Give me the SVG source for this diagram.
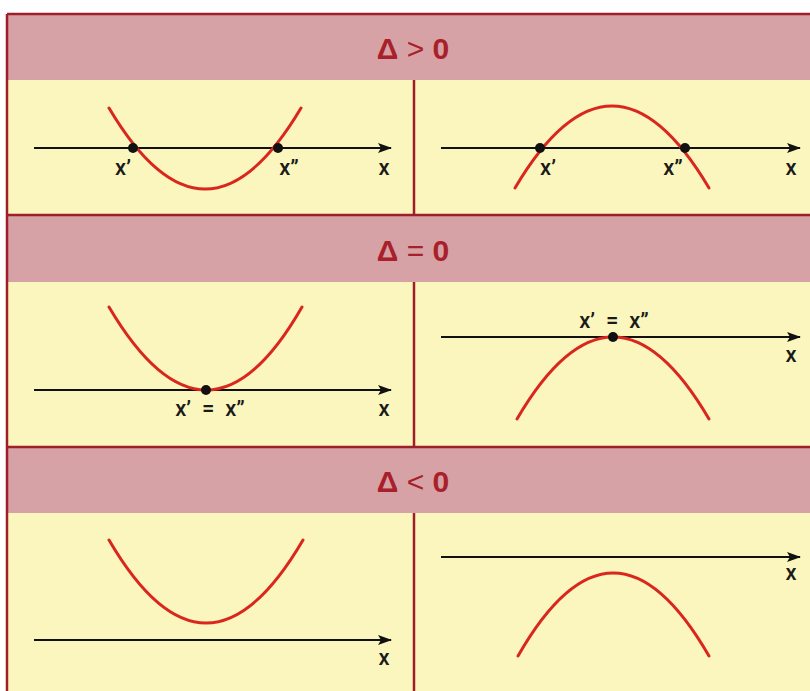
<svg xmlns="http://www.w3.org/2000/svg" width="810" height="691" viewBox="0 0 810 691">
  <defs>
    <marker id="arr" viewBox="0 0 14 10" refX="13" refY="5" markerWidth="14" markerHeight="10" markerUnits="userSpaceOnUse" orient="auto">
      <path d="M0,0 L14,5 L0,10 L3,5 Z" fill="#111"/>
    </marker>
    <style>
      .hdr { fill: #d6a2a6; }
      .cell { fill: #fbf6bd; }
      .rule { stroke: #9e1f2a; stroke-width: 2.5; fill: none; }
      .axis { stroke: #111; stroke-width: 2; fill: none; marker-end: url(#arr); }
      .curve { stroke: #d9261f; stroke-width: 3; fill: none; stroke-linecap: round; }
      .dot { fill: #111; }
      .lbl { font-family: Roboto, "Liberation Sans", Arial, sans-serif; font-weight: 500; font-size: 22px; fill: #1a1a1a; text-anchor: middle; }
      .title { font-family: "Liberation Sans", Arial, sans-serif; font-size: 30px; fill: #a8202a; text-anchor: middle; }
    </style>
  </defs>

  <rect x="0" y="0" width="810" height="691" fill="#ffffff"/>

  <g id="table">
    <rect class="hdr" x="7" y="14" width="803" height="66"/>
    <rect class="cell" x="7" y="80" width="803" height="135"/>
    <rect class="hdr" x="7" y="215" width="803" height="67"/>
    <rect class="cell" x="7" y="282" width="803" height="165"/>
    <rect class="hdr" x="7" y="447" width="803" height="66"/>
    <rect class="cell" x="7" y="513" width="803" height="178"/>
    <path class="rule" d="M7,14 H810 M7,14 V691 M7,215 H810 M7,447 H810 M414,80 V215 M414,282 V447 M414,513 V691"/>
  </g>

  <g id="header-pos">
    <text class="title" x="413" y="59"><tspan font-weight="bold">Δ</tspan> &gt; <tspan font-weight="bold">0</tspan></text>
  </g>
  <g id="header-zero">
    <text class="title" x="413" y="261"><tspan font-weight="bold">Δ</tspan> = <tspan font-weight="bold">0</tspan></text>
  </g>
  <g id="header-neg">
    <text class="title" x="413" y="492"><tspan font-weight="bold">Δ</tspan> &lt; <tspan font-weight="bold">0</tspan></text>
  </g>

  <g id="connectors">
    <line class="axis" x1="34" y1="148" x2="391" y2="148"/>
    <line class="axis" x1="441" y1="148" x2="800" y2="148"/>
    <line class="axis" x1="34" y1="390" x2="391" y2="390"/>
    <line class="axis" x1="441" y1="337" x2="800" y2="337"/>
    <line class="axis" x1="34" y1="640" x2="391" y2="640"/>
    <line class="axis" x1="441" y1="557" x2="800" y2="557"/>
  </g>

  <g id="pos-up">
    <path class="curve" d="M109,108 Q205,270 301,108"/>
    <circle class="dot" cx="133" cy="148" r="5"/>
    <circle class="dot" cx="278" cy="148" r="5"/>
    <text class="lbl" x="123" y="175">x’</text>
    <text class="lbl" x="289" y="175">x”</text>
    <text class="lbl" x="384" y="175">x</text>
  </g>

  <g id="pos-down">
    <path class="curve" d="M515,188 Q612,24 709,188"/>
    <circle class="dot" cx="540" cy="148" r="5"/>
    <circle class="dot" cx="685" cy="148" r="5"/>
    <text class="lbl" x="548" y="175">x’</text>
    <text class="lbl" x="673" y="175">x”</text>
    <text class="lbl" x="791" y="175">x</text>
  </g>

  <g id="zero-up">
    <path class="curve" d="M109,307 Q207,473 302,307"/>
    <circle class="dot" cx="206" cy="390" r="5"/>
    <text class="lbl" x="210" y="416" xml:space="preserve">x’  =  x”</text>
    <text class="lbl" x="384" y="416">x</text>
  </g>

  <g id="zero-down">
    <path class="curve" d="M517,419 Q613,255 709,419"/>
    <circle class="dot" cx="613" cy="337" r="5"/>
    <text class="lbl" x="614" y="328" xml:space="preserve">x’  =  x”</text>
    <text class="lbl" x="791" y="362">x</text>
  </g>

  <g id="neg-up">
    <path class="curve" d="M109,540 Q206,706 303,540"/>
    <text class="lbl" x="384" y="665">x</text>
  </g>

  <g id="neg-down">
    <path class="curve" d="M518,656 Q613,490 709,656"/>
    <text class="lbl" x="791" y="580">x</text>
  </g>
</svg>
